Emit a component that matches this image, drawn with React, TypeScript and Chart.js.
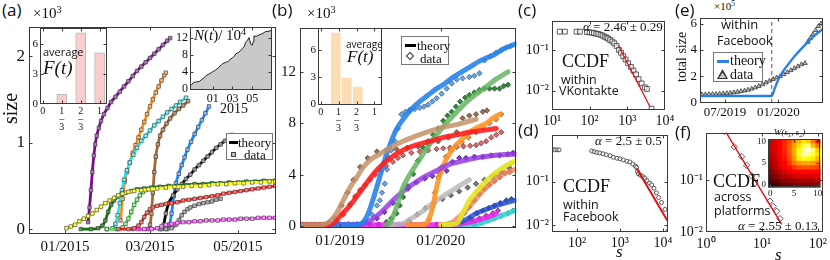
import React, { useEffect, useRef } from "react";
import { Chart, registerables } from "chart.js";

Chart.register(...registerables);

const SERIF = "'Liberation Serif', 'Times New Roman', serif";
const SANS = "'Open Sans', 'DejaVu Sans', sans-serif";
const INK = "#111";

// ================= panel (a): growth of groups, days since 01/2015, size in 10^3 =================
const aXTickDays = [0, 59, 120];
const aXTickLabels = ["01/2015", "03/2015", "05/2015"];
const aYTicks = [0, 1, 2];
const aYellow = [[1,0.01],[4,0.03],[7,0.05],[10,0.09],[13,0.12],[16,0.15],[19,0.18],[22,0.22],[25,0.26],[28,0.3],[31,0.33],[34,0.36],[37,0.39],[40,0.41],[44,0.43],[48,0.44],[53,0.45],[58,0.46],[64,0.47],[70,0.48],[76,0.49],[82,0.49],[88,0.5],[94,0.5],[100,0.51],[106,0.52],[112,0.52],[118,0.53],[124,0.53],[130,0.54],[136,0.54],[142,0.55],[146,0.55]];
const aDarkGreen = [[11,0],[18,0],[23,0.01],[26,0.04],[28,0.1],[30,0.2],[32,0.28],[34,0.33],[36,0.37],[39,0.4],[42,0.42],[46,0.44],[50,0.46],[55,0.47],[60,0.48],[66,0.49],[72,0.5],[78,0.5],[84,0.51],[90,0.52],[96,0.52],[102,0.53],[108,0.53],[114,0.54],[120,0.54],[126,0.55],[132,0.55],[138,0.56],[146,0.56]];
const aRed = [[37,0],[44,0],[48,0.01],[51,0.04],[53,0.08],[55,0.14],[57,0.19],[59,0.23],[61,0.25],[64,0.27],[67,0.28],[70,0.29],[74,0.3],[78,0.31],[82,0.33],[86,0.34],[90,0.35],[94,0.36],[98,0.37],[102,0.38],[106,0.39],[110,0.41],[114,0.42],[118,0.43],[122,0.44],[126,0.45],[130,0.46],[134,0.47],[138,0.48],[142,0.49],[146,0.5]];
const aMagenta = [[47,0],[55,0],[60,0],[64,0.01],[67,0.03],[70,0.05],[74,0.06],[78,0.07],[82,0.08],[86,0.08],[90,0.09],[94,0.09],[98,0.1],[102,0.1],[106,0.1],[110,0.11],[114,0.11],[118,0.11],[122,0.12],[126,0.12],[130,0.12],[134,0.13],[138,0.13],[142,0.13],[146,0.13]];
const aLightGreen = [[29,0],[36,0],[40,0.02],[42,0.06],[44,0.12],[46,0.2],[48,0.28],[50,0.34],[52,0.39],[54,0.43],[56,0.45]];
const aGray = [[70,0],[74,0.01],[77,0.05],[79,0.1],[81,0.16],[83,0.2],[85,0.23],[87,0.25],[90,0.27],[93,0.29],[96,0.3],[99,0.31],[102,0.32],[105,0.34],[108,0.35]];
const aBlack = [[67,0],[68.5,0.05],[70,0.18],[72,0.3],[75,0.39],[78,0.46],[81,0.52],[84,0.58],[87,0.63],[90,0.69],[93,0.74],[96,0.79],[99,0.84],[102,0.89],[105,0.94],[108,0.98],[111,1.02],[114,1.06],[116,1.09]];
const aBlue = [[66,0],[71,0],[72.5,0.05],[74,0.18],[75.5,0.38],[77,0.53],[79,0.64],[81,0.74],[83,0.83],[85,0.92],[87.5,1.01],[90,1.1],[92.5,1.18],[95,1.26],[97.5,1.34],[100,1.42]];
const aBrown = [[51,0],[57,0],[59,0.05],[60,0.18],[61,0.42],[62,0.66],[63,0.84],[64.5,0.98],[66,1.08],[68,1.15],[70.5,1.22],[73,1.28],[76,1.34],[79,1.39],[82,1.43],[85.5,1.48]];
const aCyan = [[29,0],[33,0.01],[35,0.06],[36.5,0.16],[38,0.3],[39.5,0.45],[41,0.57],[43,0.68],[45,0.77],[47.5,0.86],[50,0.94],[53,1.02],[56,1.08],[59,1.14],[62,1.2],[65,1.25],[68,1.3],[71,1.35],[74,1.39],[77,1.43],[80,1.47],[84,1.52]];
const aOrange = [[38.5,0.1],[40,0.35],[41.5,0.55],[43,0.66],[45,0.77],[47,0.88],[49,0.97],[51,1.06],[53,1.15],[55,1.24],[57,1.33],[59,1.42],[61,1.5],[63,1.58],[65,1.65],[67,1.72],[69,1.78],[70,1.81]];
const aPurple = [[16,0.08],[17,0.25],[18,0.45],[19,0.66],[20,0.85],[21,0.98],[22,1.08],[23.5,1.17],[25,1.25],[27,1.33],[29.5,1.4],[32,1.47],[35,1.53],[38,1.59],[41,1.65],[44,1.71],[47,1.77],[50,1.83],[53,1.88],[56,1.93],[59,1.98],[62,2.03],[65,2.08],[68,2.13],[71,2.18],[73,2.21]];

// inset: average F(t)
const aFracTicks = [0, 1 / 3, 2 / 3, 1];
const aBarX = [1 / 3, 2 / 3, 1];
const aBarF = [0.94, 7.17, 5.15];
const aBarYTicks = [0, 3, 6];
// inset: N(t)/10^4, months since 01/2015
const aNTicks = [0, 2, 4];
const aNTickLabels = ["01", "03", "05"];
const aNYTicks = [0, 4, 8, 12];
const aN = [[-2.3,0.8],[-2.15,0.9],[-1.9,1.5],[-1.6,1.6],[-1.33,1.75],[-1.1,2.2],[-0.9,2.5],[-0.66,3.1],[-0.4,3.4],[-0.15,3.8],[0,4.0],[0.3,4.4],[0.6,5.0],[0.85,5.5],[1.0,5.9],[1.3,6.2],[1.5,6.3],[1.67,6.7],[2.0,7.3],[2.2,7.7],[2.33,8.2],[2.6,8.5],[2.8,8.9],[3.0,9.4],[3.2,10.0],[3.33,10.9],[3.5,11.3],[3.67,12.0],[3.75,11.4],[3.83,10.5],[4.0,10.2],[4.1,11.0],[4.17,12.4],[4.4,12.3],[4.67,12.6],[5.0,12.9],[5.33,13.4],[5.7,13.5],[6.0,13.8]];

// ================= panel (b): months since 01/2019, size in 10^3 =================
const bXTicks = [0, 12];
const bXTickLabels = ["01/2019", "01/2020"];
const bYTicks = [0, 4, 8, 12];
const bBrownT = [[-4.75,0.1],[-2.5,0.1],[-1.6,0.2],[-1.0,0.5],[-0.4,1.0],[0.4,2.0],[1.2,3.0],[2.0,3.8],[2.8,4.6],[3.7,5.2],[4.75,5.6],[6.0,6.1],[7.5,6.6],[9.0,7.0],[10.7,7.4],[12.3,7.7],[13.9,7.9],[15.0,8.1],[16.2,8.3]];
const bBrownD = [[-1.2,0.3],[-0.6,0.6],[0.2,1.6],[0.9,2.6],[1.6,3.6],[2.4,4.6],[3.3,5.3],[4.4,5.8],[5.5,5.9],[6.7,6.0],[8.0,6.1],[9.3,6.2],[10.5,6.4],[11.7,6.6],[12.9,6.9],[13.9,7.3],[14.6,8.4],[15.4,8.6],[16.2,8.7],[17.0,8.9],[17.5,9.0]];
const bRedT = [[-4.75,0.1],[-1.5,0.1],[-0.8,0.2],[0.2,0.9],[1.2,1.6],[2.0,2.3],[2.8,3.0],[3.8,3.9],[4.75,4.6],[6.0,5.3],[7.5,5.9],[9.0,6.3],[10.7,6.6],[12.3,6.9],[13.9,7.1],[15.4,7.3],[17.0,7.45],[18.6,7.6]];
const bRedD = [[-0.3,0.3],[0.4,0.9],[1.2,1.7],[1.8,2.3],[2.4,2.8],[3.0,3.2],[3.6,3.6],[4.2,4.0],[4.8,4.3],[5.5,4.7],[6.3,5.0],[6.9,5.3],[7.5,5.5],[8.5,5.7],[9.5,5.8],[10.5,5.9],[11.5,6.0],[12.3,6.05],[13.1,6.1],[13.9,6.15],[14.7,6.2],[15.5,6.25],[16.2,6.3],[16.8,6.45],[17.4,6.6],[18.0,6.9],[18.6,7.1],[19.2,7.3]];
const bBlueT = [[-4.75,0.1],[2.0,0.1],[2.6,0.2],[3.0,0.5],[3.5,1.2],[4.0,2.2],[4.5,3.3],[5.0,4.4],[5.5,5.5],[6.0,6.4],[6.7,7.5],[7.5,8.3],[8.5,9.1],[9.5,9.7],[10.5,10.2],[11.5,10.7],[12.5,11.1],[13.5,11.6],[14.5,12.0],[15.5,12.4],[16.5,12.8],[17.5,13.1],[18.5,13.4],[19.5,13.8],[21,14.2]];
const bBlueD = [[1.0,0.15],[2.0,0.15],[3.0,0.3],[3.8,0.9],[4.4,1.6],[4.75,2.0],[5.0,2.6],[5.34,3.3],[5.6,4.4],[5.74,5.3],[6.1,5.9],[6.53,6.6],[6.9,7.6],[7.32,8.7],[7.8,8.9],[8.31,9.05],[8.9,9.1],[9.5,9.2],[10.0,9.3],[10.5,9.45],[11.0,9.7],[11.5,9.95],[12.1,10.3],[12.7,10.7],[13.3,11.1],[13.9,11.4],[14.6,11.5],[15.4,11.6],[16.0,11.7],[16.6,11.9],[17.2,12.9],[17.9,13.2],[18.6,13.5],[19.2,13.7],[19.8,13.9],[20.3,14.0]];
const bGreenT = [[5.5,0.1],[6.0,0.3],[6.3,0.7],[6.8,1.6],[7.5,3.0],[8.5,4.2],[9.5,5.2],[10.5,6.2],[11.5,7.1],[12.5,7.9],[13.5,8.6],[14.5,9.3],[15.5,9.9],[16.5,10.4],[17.5,10.9],[18.5,11.4],[19.5,11.8],[20.0,12.0]];
const bGreenD = [[5.54,0.33],[6.1,0.6],[6.73,0.98],[7.1,1.6],[7.52,2.26],[8.1,3.1],[8.71,4.05],[9.3,5.1],[9.9,6.1],[10.5,6.6],[11.1,7.1],[11.7,7.6],[12.3,8.2],[12.8,8.6],[13.3,8.9],[13.8,9.3],[14.3,9.7],[14.9,10.0],[15.4,10.2],[16.0,10.4],[16.6,10.6],[17.2,10.7],[17.8,10.7],[18.4,10.7],[19.0,10.7],[19.5,10.9],[20.0,11.0]];
const bPurpleT = [[-4.75,0.1],[1.5,0.1],[2.77,0.2],[3.8,0.5],[4.75,0.98],[5.7,1.6],[6.73,2.26],[7.7,2.8],[8.71,3.28],[9.7,3.7],[10.7,4.05],[11.9,4.45],[13.1,4.82],[14.2,5.0],[15.4,5.2],[16.6,5.35],[17.8,5.46],[19.3,5.55],[21,5.6]];
const bPurpleD = [[4.4,0.6],[5.3,1.1],[6.3,1.8],[7.2,2.4],[8.1,2.9],[9.1,3.4],[10.1,3.7],[11.0,3.9],[11.9,4.1],[12.7,4.3],[13.4,5.0],[14.2,5.3],[15.0,5.3],[16.0,5.4],[17.0,5.4],[18.0,5.5],[19.0,5.5],[20.0,5.6],[20.6,5.7]];
const bOrangeT = [[8,0.1],[10.0,0.1],[10.4,0.3],[10.8,0.9],[11.2,2.0],[11.6,3.3],[12.0,4.2],[12.5,5.0],[13.1,5.7],[13.8,6.3],[14.6,6.8],[15.4,7.3],[16.4,7.7],[17.4,8.0],[18.2,8.4],[19.0,8.7]];
const bOrangeD = [[10.6,0.5],[11.0,1.5],[11.3,2.6],[11.7,3.8],[12.1,4.6],[12.6,5.4],[13.2,5.9],[13.8,6.2],[14.5,6.5],[15.3,6.9],[16.2,7.3],[17.0,7.7],[17.8,8.0],[18.6,8.3],[19.2,8.7]];
const bGrayT = [[6,0.1],[7.52,0.2],[8.5,0.6],[9.5,1.0],[10.5,1.5],[11.5,2.0],[12.7,2.5],[13.9,3.0],[15.4,3.6]];
const bGrayD = [[8.2,0.4],[9.2,0.9],[10.2,1.4],[11.2,1.8],[12.2,2.1],[13.2,2.4],[14.2,2.7],[15.2,3.0],[16.2,3.3],[17.2,3.6],[18.2,3.9],[19.2,4.2],[20.2,4.5]];
const bYellowT = [[12,0.1],[13.9,0.2],[14.6,1.0],[15.4,2.0],[16.4,2.8],[17.4,3.5],[18.4,4.1],[19.4,4.56],[20.8,5.07]];
const bYellowD = [[14.4,0.7],[15.0,1.3],[15.6,2.0],[16.2,2.6],[16.8,3.0],[17.4,3.4],[18.0,3.8],[18.6,4.1],[19.2,4.4],[19.8,4.7],[20.4,4.9]];
const bSalmonT = [[12,0.1],[13.1,0.2],[14.3,0.8],[15.4,1.5],[16.4,2.3],[17.4,3.0],[18.4,3.6],[19.4,4.05],[20.8,4.4]];
const bSalmonD = [[14.8,1.0],[15.4,1.5],[16.0,2.0],[16.6,2.5],[17.2,2.9],[17.8,3.2],[18.4,3.5],[19.0,3.8],[19.6,4.1],[20.2,4.2]];
const bNavyT = [[12,0.1],[13.5,0.2],[15.0,0.5],[16.2,0.98],[17.4,1.3],[18.6,1.6],[20.8,2.0]];
const bNavyD = [[15.5,0.6],[16.3,1.0],[17.0,1.2],[17.7,1.4],[18.4,1.6],[19.1,1.8],[19.8,2.0],[20.4,2.1]];
const bMagentaT = [[-4.75,0.1],[13,0.1],[15.4,0.3],[16.6,0.5],[17.8,0.75],[18.6,0.98]];
const bMagentaD = [[15.8,0.4],[16.6,0.6],[17.4,0.8],[18.2,1.0],[18.8,1.2]];
const bCyanT = [[13,0.1],[16,0.1],[17.0,0.25],[18.6,0.65],[19.8,0.95],[20.8,1.2]];
const bCyanD = [[16.8,0.3],[17.6,0.45],[18.4,0.6],[19.2,0.8],[20.0,1.0],[20.6,1.2]];
const bBaseD = [[-4.4,0.12],[-3.9,0.12],[-3.4,0.12],[-2.9,0.12],[-2.4,0.12],[-1.9,0.12],[-1.4,0.12],[-0.9,0.12],[-0.4,0.12],[0.1,0.12],[0.6,0.12],[1.1,0.12],[1.6,0.12],[2.1,0.12],[2.6,0.12],[3.6,0.12],[4.6,0.12],[5.6,0.12],[7.0,0.12],[8.5,0.12],[10,0.12],[11.5,0.12],[13,0.12],[14.5,0.12],[16,0.12]];
// inset
const bFracTicks = [0, 1 / 3, 2 / 3, 1];
const bBarX = [0.28, 0.485, 0.69];
const bBarF = [8.0, 3.0, 2.0];
const bBarYTicks = [0, 3, 6];

// ================= panel (c): CCDF within VKontakte =================
const cXTicks = [10, 100, 1000, 10000];
const cYTicks = [0.1, 0.01];
const cData = [[16,0.28],[22,0.28],[45,0.28],[55,0.28],[85,0.275],[100,0.27],[115,0.265],[130,0.26],[150,0.25],[170,0.245],[195,0.235],[220,0.225],[250,0.21],[280,0.2],[310,0.19],[350,0.175],[400,0.16],[450,0.145],[520,0.125],[600,0.1],[680,0.085],[780,0.07],[900,0.058],[1050,0.047],[1250,0.038],[1450,0.031],[1700,0.025],[2000,0.019],[2400,0.015],[2900,0.012],[3300,0.011],[4400,0.0036]];
const cFit = [[575,0.13],[4000,0.004]];

// ================= panel (d): CCDF within Facebook =================
const dXTicks = [100, 1000, 10000];
const dYTicks = [0.1, 0.01];
const dData = [[26,0.55],[30,0.53],[34,0.53],[38,0.53],[219,0.5],[250,0.48],[290,0.46],[339,0.45],[400,0.43],[480,0.41],[589,0.39],[700,0.36],[850,0.34],[1000,0.33],[1200,0.31],[1450,0.29],[1700,0.28],[2000,0.25],[2300,0.225],[2450,0.21],[2550,0.17],[2690,0.15],[3000,0.14],[3400,0.13],[3800,0.12],[4300,0.105],[4900,0.092],[5500,0.084],[6200,0.07],[7080,0.055],[8000,0.043],[9330,0.033],[11200,0.023],[13000,0.0072]];
const dFit = [[2450,0.2],[12600,0.013]];

// ================= panel (e): total size within Facebook (10^5), months since 01/2019 =================
const eXTicks = [6, 12];
const eXTickLabels = ["07/2019", "01/2020"];
const eYTicks = [0, 2, 4, 6];
const eTheory = [[3.19,0.5],[11.26,0.5],[11.6,1.1],[12.0,1.75],[12.5,2.35],[13.1,2.9],[13.8,3.5],[14.6,4.1],[15.4,4.65],[16.1,5.1],[17.0,5.6]];
const eData = [[3.4,0.62],[3.8,0.62],[4.2,0.63],[4.6,0.64],[5.0,0.65],[5.4,0.67],[5.8,0.69],[6.2,0.71],[6.6,0.74],[7.0,0.77],[7.4,0.81],[7.8,0.86],[8.2,0.91],[8.6,0.97],[9.0,1.05],[9.4,1.14],[9.8,1.25],[10.2,1.38],[10.6,1.52],[11.0,1.65],[11.4,1.78],[11.8,1.9],[12.2,2.0],[12.6,2.15],[13.0,2.3],[13.4,2.45],[13.8,2.6],[14.2,2.75],[14.6,2.9],[15.0,3.0],[15.3,4.6],[15.6,4.9],[15.9,5.2],[16.2,5.5],[16.5,5.8],[16.8,6.0]];
const eSwitch = [[11.26,-0.03],[11.26,6.45]];

// ================= panel (f): CCDF across platforms =================
const fXTicks = [1, 10, 100];
const fYTicks = [0.1, 0.01];
const fData = [[2.12,0.85],[3.2,0.43],[4.34,0.28],[5.33,0.19],[6.55,0.12],[7.5,0.087],[13.9,0.039],[15.9,0.031],[18.3,0.025],[21.0,0.018]];
const fFit = [[2.12,0.93],[22.5,0.014]];
// inset W(s1,s2): rows s2 = 10 ... 0, columns s1 = 0 ... 10
const wTicks = [0, 5, 10];
const wRows = [
  [0.28,0.32,0.38,0.45,0.52,0.60,0.68,0.76,0.72,0.58,0.45],
  [0.28,0.32,0.38,0.46,0.55,0.65,0.75,0.85,0.90,0.70,0.58],
  [0.27,0.31,0.37,0.45,0.55,0.66,0.80,0.92,0.97,0.90,0.72],
  [0.26,0.30,0.36,0.44,0.54,0.66,0.82,0.95,0.92,0.85,0.76],
  [0.25,0.29,0.35,0.42,0.52,0.64,0.78,0.82,0.80,0.78,0.68],
  [0.23,0.27,0.33,0.40,0.48,0.58,0.64,0.66,0.66,0.64,0.60],
  [0.21,0.25,0.30,0.36,0.42,0.48,0.52,0.53,0.53,0.52,0.50],
  [0.18,0.22,0.26,0.31,0.35,0.38,0.40,0.41,0.41,0.41,0.40],
  [0.15,0.18,0.22,0.25,0.28,0.30,0.31,0.32,0.32,0.32,0.32],
  [0.10,0.13,0.16,0.19,0.21,0.22,0.23,0.24,0.24,0.24,0.24],
  [0.05,0.08,0.11,0.13,0.15,0.16,0.17,0.17,0.17,0.17,0.17],
];

// ================= helpers =================
const pts = (a: number[][]) => a.map(([x, y]) => ({ x, y }));
const SUP: Record<string, string> = { "-": "\u207B", "0": "\u2070", "1": "\u00B9", "2": "\u00B2", "3": "\u00B3", "4": "\u2074", "5": "\u2075" };
const logLabel = (v: number) => "10" + String(Math.round(Math.log10(v))).split("").map((c) => SUP[c]).join("");
const pick = (vals: number[], labels: string[]) => (v: number) => {
  const i = vals.findIndex((t) => Math.abs(t - v) < 1e-9);
  return i < 0 ? "" : labels[i];
};
const fracLabel = (v: number) => {
  if (Math.abs(v) < 1e-6) return "0";
  if (Math.abs(v - 1) < 1e-6) return "1";
  return [Math.abs(v - 1 / 3) < 1e-6 ? "1" : "2", "\u2013", "3"];
};

const fitX = (xh: number) => (s: any) => { s.height = xh; s.paddingLeft = 0; s.paddingRight = 0; };
const fitY = (yw: number) => (s: any) => { s.width = yw; s.paddingTop = 0; s.paddingBottom = 0; };

function axis(o: any) {
  return {
    type: o.type || "linear",
    min: o.min,
    max: o.max,
    offset: false,
    grid: { display: false, drawTicks: false },
    border: { display: false },
    afterBuildTicks: (s: any) => { s.ticks = o.ticks.map((v: number) => ({ value: v })); },
    afterFit: o.fit,
    ticks: {
      autoSkip: false, maxRotation: 0, minRotation: 0, padding: o.pad ?? 3, color: INK,
      font: { family: SERIF, size: o.size, lineHeight: o.lh ?? 1.2 },
      callback: (v: any) => o.fmt(Number(v)),
    },
  };
}

function opts(x: any, y: any, pt: number, pr: number, extra: any = {}) {
  return {
    responsive: false, maintainAspectRatio: false, animation: false, events: [],
    layout: { padding: { top: pt, right: pr, left: 0, bottom: 0 } },
    plugins: { legend: { display: false }, tooltip: { enabled: false }, title: { display: false }, ...extra },
    scales: { x, y },
  };
}

const framePlugin = {
  id: "frame",
  afterDraw(chart: any) {
    const { ctx, chartArea: a, scales } = chart;
    const L = Math.round(a.left) + 0.5, R = Math.round(a.right) - 0.5;
    const T = Math.round(a.top) + 0.5, B = Math.round(a.bottom) - 0.5;
    ctx.save();
    ctx.strokeStyle = "#3a3a3a";
    ctx.lineWidth = 1;
    ctx.strokeRect(L, T, R - L, B - T);
    ctx.beginPath();
    const tl = 3;
    (scales.x.ticks || []).forEach((t: any) => {
      const p = Math.round(scales.x.getPixelForValue(t.value)) + 0.5;
      if (p < L || p > R) return;
      ctx.moveTo(p, B); ctx.lineTo(p, B - tl); ctx.moveTo(p, T); ctx.lineTo(p, T + tl);
    });
    (scales.y.ticks || []).forEach((t: any) => {
      const p = Math.round(scales.y.getPixelForValue(t.value)) + 0.5;
      if (p < T || p > B) return;
      ctx.moveTo(L, p); ctx.lineTo(L + tl, p); ctx.moveTo(R, p); ctx.lineTo(R - tl, p);
    });
    ctx.stroke();
    ctx.restore();
  },
};

const whitePlugin = {
  id: "white",
  beforeDraw(chart: any) {
    const { ctx, chartArea: a } = chart;
    ctx.save();
    ctx.fillStyle = "#fff";
    ctx.fillRect(a.left, a.top, a.right - a.left, a.bottom - a.top);
    ctx.restore();
  },
};

const hot = (v: number) => {
  const c = (t: number) => Math.max(0, Math.min(1, t));
  const r = c(0.08 + v / 0.4), g = c((v - 0.4) / 0.4), b = c((v - 0.8) / 0.2);
  return `rgb(${Math.round(r * 255)},${Math.round(g * 255)},${Math.round(b * 255)})`;
};

const heatPlugin = {
  id: "heat",
  beforeDatasetsDraw(chart: any) {
    const { ctx, scales } = chart;
    const xs = scales.x, ys = scales.y;
    ctx.save();
    wRows.forEach((row, r) => {
      const s2 = wRows.length - 1 - r;
      row.forEach((v, s1) => {
        const x0 = xs.getPixelForValue(s1 - 0.5), x1 = xs.getPixelForValue(s1 + 0.5);
        const y0 = ys.getPixelForValue(s2 + 0.5), y1 = ys.getPixelForValue(s2 - 0.5);
        ctx.fillStyle = hot(v);
        ctx.fillRect(x0, y0, x1 - x0 + 0.6, y1 - y0 + 0.6);
      });
    });
    ctx.restore();
  },
};

function ChartBox({ l, t, w, h, yw, xh, pt = 2, pr = 4, make }: any) {
  const ref = useRef<HTMLCanvasElement | null>(null);
  const W = yw + w + pr;
  const H = pt + h + xh;
  useEffect(() => {
    const chart = new Chart(ref.current as HTMLCanvasElement, make({ yw, xh, pt, pr }));
    return () => chart.destroy();
  }, []);
  return (
    <div style={{ position: "absolute", left: l - yw, top: t - pt, width: W, height: H }}>
      <canvas ref={ref} width={W} height={H} style={{ display: "block", width: W, height: H }} />
    </div>
  );
}

// ================= chart configs =================
const aSeries = [
  { d: aYellow, line: "#ffff1a", fill: "#ffff66" },
  { d: aDarkGreen, line: "#0a7a0a", fill: "#4a9a4a" },
  { d: aRed, line: "#ff1a1a", fill: "#ff7777" },
  { d: aMagenta, line: "#ff2cff", fill: "#ff99ff" },
  { d: aLightGreen, line: "#44ee44", fill: "#aaf5aa" },
  { d: aGray, line: "#8a8a8a", fill: "#b0b0b0" },
  { d: aBlack, line: "#000000", fill: "#9a9a9a" },
  { d: aBlue, line: "#1e8cff", fill: "#88bdf2" },
  { d: aBrown, line: "#a8682e", fill: "#c49a78" },
  { d: aCyan, line: "#22e6f0", fill: "#8af2f2" },
  { d: aOrange, line: "#ff8c1a", fill: "#ffb870" },
  { d: aPurple, line: "#7b0c8a", fill: "#a878b8" },
];

const makeA = ({ yw, xh, pt, pr }: any) => ({
  type: "scatter",
  data: {
    datasets: aSeries.map((s) => ({
      data: pts(s.d), showLine: true, borderColor: s.line, borderWidth: 2.8, cubicInterpolationMode: "monotone",
      pointStyle: "rect", pointRadius: 2.5, pointBackgroundColor: s.fill, pointBorderColor: "#333", pointBorderWidth: 0.6,
    })),
  },
  options: opts(
    axis({ min: -25, max: 146.5, ticks: aXTickDays, fmt: pick(aXTickDays, aXTickLabels), size: 15, fit: fitX(xh), pad: 4 }),
    axis({ min: -0.057, max: 2.343, ticks: aYTicks, fmt: (v: number) => String(v), size: 17, fit: fitY(yw), pad: 4 }),
    pt, pr),
  plugins: [framePlugin],
});

const makeABar = ({ yw, xh, pt, pr }: any) => ({
  type: "bar",
  data: {
    datasets: [{
      data: aBarX.map((x, i) => ({ x, y: aBarF[i] })), backgroundColor: "#fdcccc", borderColor: "#b8b8b8", borderWidth: 1, barThickness: 10,
    }],
  },
  options: opts(
    axis({ min: -0.05, max: 1.13, ticks: aFracTicks, fmt: fracLabel, size: 10, lh: 0.8, fit: fitX(xh), pad: 3 }),
    axis({ min: -0.03, max: 7.65, ticks: aBarYTicks, fmt: (v: number) => String(v), size: 11, fit: fitY(yw), pad: 2 }),
    pt, pr),
  plugins: [whitePlugin, framePlugin],
});

const makeAN = ({ yw, xh, pt, pr }: any) => ({
  type: "scatter",
  data: {
    datasets: [{
      data: pts(aN), showLine: true, fill: "start", backgroundColor: "#c9c9c9", borderColor: "#222", borderWidth: 1, pointRadius: 0, tension: 0,
    }],
  },
  options: opts(
    axis({ min: -2.3, max: 6.0, ticks: aNTicks, fmt: pick(aNTicks, aNTickLabels), size: 12, fit: fitX(xh), pad: 2 }),
    axis({ min: -0.31, max: 14.5, ticks: aNYTicks, fmt: (v: number) => String(v), size: 12, fit: fitY(yw), pad: 2 }),
    pt, pr),
  plugins: [whitePlugin, framePlugin],
});

const bSeries = [
  { t: bBrownT, d: bBrownD, tc: "rgba(196,146,104,0.85)", df: "#9a7055", db: "#3a2414" },
  { t: bRedT, d: bRedD, tc: "rgba(255,30,30,0.9)", df: "#d86a6a", db: "#5a1414" },
  { t: bBlueT, d: bBlueD, tc: "rgba(40,130,235,0.9)", df: "#6aa6e6", db: "#143a6a" },
  { t: bGreenT, d: bGreenD, tc: "rgba(100,180,100,0.85)", df: "#2f8a3a", db: "#0a300a" },
  { t: bPurpleT, d: bPurpleD, tc: "rgba(150,60,225,0.85)", df: "#7a3ac8", db: "#2a1050" },
  { t: bOrangeT, d: bOrangeD, tc: "rgba(255,150,40,0.9)", df: "#ee9a48", db: "#6a3a10" },
  { t: bGrayT, d: bGrayD, tc: "rgba(185,185,185,0.85)", df: "#777", db: "#222" },
  { t: bYellowT, d: bYellowD, tc: "rgba(232,232,40,0.9)", df: "#d8d838", db: "#505010" },
  { t: bSalmonT, d: bSalmonD, tc: "rgba(238,135,95,0.8)", df: "#d87a58", db: "#502010" },
  { t: bNavyT, d: bNavyD, tc: "rgba(40,80,205,0.85)", df: "#3a58a8", db: "#101a40" },
  { t: bMagentaT, d: bMagentaD, tc: "rgba(232,40,232,0.9)", df: "#c040c0", db: "#401040" },
  { t: bCyanT, d: bCyanD, tc: "rgba(60,212,212,0.9)", df: "#38b0b0", db: "#104040" },
];

const makeB = ({ yw, xh, pt, pr }: any) => ({
  type: "scatter",
  data: {
    datasets: [
      ...bSeries.map((s) => ({
        data: pts(s.t), showLine: true, borderColor: s.tc, borderWidth: 5, borderCapStyle: "round", borderJoinStyle: "round",
        cubicInterpolationMode: "monotone", pointRadius: 0,
      })),
      { data: pts(bBaseD), showLine: false, pointStyle: "rectRot", pointRadius: 2.7, pointBackgroundColor: "#5a2a90", pointBorderColor: "#1a0a30", pointBorderWidth: 0.6 },
      ...bSeries.map((s) => ({
        data: pts(s.d), showLine: false, pointStyle: "rectRot", pointRadius: 2.7, pointBackgroundColor: s.df, pointBorderColor: s.db, pointBorderWidth: 0.6,
      })),
    ],
  },
  options: opts(
    axis({ min: -4.75, max: 21.0, ticks: bXTicks, fmt: pick(bXTicks, bXTickLabels), size: 15, fit: fitX(xh), pad: 4 }),
    axis({ min: -0.15, max: 15.45, ticks: bYTicks, fmt: (v: number) => String(v), size: 15, fit: fitY(yw), pad: 4 }),
    pt, pr),
  plugins: [framePlugin],
});

const makeBBar = ({ yw, xh, pt, pr }: any) => ({
  type: "bar",
  data: {
    datasets: [{
      data: bBarX.map((x, i) => ({ x, y: bBarF[i] })), backgroundColor: "#fbdcb4", borderColor: "#ffffff", borderWidth: 1, barThickness: 11,
    }],
  },
  options: opts(
    axis({ min: -0.05, max: 1.14, ticks: bFracTicks, fmt: fracLabel, size: 10, lh: 0.8, fit: fitX(xh), pad: 3 }),
    axis({ min: -0.11, max: 8.44, ticks: bBarYTicks, fmt: (v: number) => String(v), size: 11, fit: fitY(yw), pad: 2 }),
    pt, pr),
  plugins: [whitePlugin, framePlugin],
});

const ccdf = (data: number[][], fit: number[][], style: string, r: number, lw: number) => [
  { data: pts(fit), showLine: true, borderColor: "#e41010", borderWidth: lw, pointRadius: 0 },
  { data: pts(data), showLine: false, pointStyle: style, pointRadius: r, pointBackgroundColor: "rgba(255,255,255,0.6)", pointBorderColor: "#333", pointBorderWidth: 0.8 },
];

const makeC = ({ yw, xh, pt, pr }: any) => ({
  type: "scatter",
  data: { datasets: ccdf(cData, cFit, "rect", 3.4, 1.3) },
  options: opts(
    axis({ type: "logarithmic", min: 10, max: 10000, ticks: cXTicks, fmt: logLabel, size: 14, fit: fitX(xh), pad: 3 }),
    axis({ type: "logarithmic", min: 0.00334, max: 0.518, ticks: cYTicks, fmt: logLabel, size: 14, fit: fitY(yw), pad: 3 }),
    pt, pr),
  plugins: [framePlugin],
});

const makeD = ({ yw, xh, pt, pr }: any) => ({
  type: "scatter",
  data: { datasets: ccdf(dData, dFit, "circle", 2, 2) },
  options: opts(
    axis({ type: "logarithmic", min: 26, max: 13200, ticks: dXTicks, fmt: logLabel, size: 14, fit: fitX(xh), pad: 3 }),
    axis({ type: "logarithmic", min: 0.007, max: 1.17, ticks: dYTicks, fmt: logLabel, size: 14, fit: fitY(yw), pad: 3 }),
    pt, pr),
  plugins: [framePlugin],
});

const makeE = ({ yw, xh, pt, pr }: any) => ({
  type: "scatter",
  data: {
    datasets: [
      { data: pts(eSwitch), showLine: true, borderColor: "#555", borderWidth: 1, borderDash: [4, 3], pointRadius: 0 },
      { data: pts(eTheory), showLine: true, borderColor: "#2a80e6", borderWidth: 2.4, cubicInterpolationMode: "monotone", pointRadius: 0 },
      { data: pts(eData), showLine: false, pointStyle: "triangle", pointRadius: 2.6, pointBackgroundColor: "#b8b8b8", pointBorderColor: "#222", pointBorderWidth: 0.7 },
    ],
  },
  options: opts(
    axis({ min: 3.19, max: 17.02, ticks: eXTicks, fmt: pick(eXTicks, eXTickLabels), size: 13, fit: fitX(xh), pad: 2 }),
    axis({ min: -0.03, max: 6.45, ticks: eYTicks, fmt: (v: number) => String(v), size: 13, fit: fitY(yw), pad: 3 }),
    pt, pr),
  plugins: [framePlugin],
});

const makeF = ({ yw, xh, pt, pr }: any) => ({
  type: "scatter",
  data: { datasets: ccdf(fData, fFit, "rectRot", 3.2, 1.4) },
  options: opts(
    axis({ type: "logarithmic", min: 1, max: 123, ticks: fXTicks, fmt: logLabel, size: 14, fit: fitX(xh), pad: 4 }),
    axis({ type: "logarithmic", min: 0.01, max: 0.8, ticks: fYTicks, fmt: logLabel, size: 14, fit: fitY(yw), pad: 3 }),
    pt, pr),
  plugins: [framePlugin],
});

const makeW = ({ yw, xh, pt, pr }: any) => ({
  type: "scatter",
  data: { datasets: [{ data: [], pointRadius: 0 }] },
  options: opts(
    axis({ min: -0.5, max: 10.5, ticks: wTicks, fmt: (v: number) => String(v), size: 9, fit: fitX(xh), pad: 1 }),
    axis({ min: -0.5, max: 10.5, ticks: wTicks, fmt: (v: number) => String(v), size: 9, fit: fitY(yw), pad: 2 }),
    pt, pr),
  plugins: [heatPlugin, framePlugin],
});

// ================= text helpers =================
function T({ x, y, s, f = SERIF, i = false, children, rot, c = INK }: any) {
  return (
    <div
      style={{
        position: "absolute", left: x, top: y, fontSize: s, fontFamily: f, fontStyle: i ? "italic" : "normal", color: c,
        lineHeight: 1, whiteSpace: "nowrap", transform: rot ? `rotate(${rot}deg)` : undefined, transformOrigin: "left top",
      }}
    >
      {children}
    </div>
  );
}
const Sup = ({ children }: any) => <span style={{ fontSize: "0.68em", position: "relative", top: "-0.5em" }}>{children}</span>;
const Sub = ({ children }: any) => <span style={{ fontSize: "0.7em", position: "relative", top: "0.25em" }}>{children}</span>;

function Box({ x, y, w, h, children }: any) {
  return <div style={{ position: "absolute", left: x, top: y, width: w, height: h, border: "1px solid #777", background: "#fff", boxSizing: "border-box" }}>{children}</div>;
}
const Abs = ({ x, y, w, h, bg, extra }: any) => <div style={{ position: "absolute", left: x, top: y, width: w, height: h, background: bg, ...(extra || {}) }} />;

export default function App() {
  return (
    <div style={{ position: "absolute", left: 0, top: 0, width: 830, height: 260, background: "#fff", overflow: "hidden" }}>
      {/* main panels */}
      <ChartBox l={29} t={24} w={247} h={210} yw={28} xh={26} pr={6} make={makeA} />
      <ChartBox l={300} t={25} w={217} h={203} yw={28} xh={26} pr={4} make={makeB} />
      <ChartBox l={552} t={18} w={113} h={92} yw={30} xh={22} pr={12} make={makeC} />
      <ChartBox l={552} t={132} w={116} h={100} yw={30} xh={22} pr={10} make={makeD} />
      <ChartBox l={700} t={15} w={123} h={88} yw={14} xh={16} pr={6} make={makeE} />
      <ChartBox l={706} t={130} w={117} h={102} yw={34} xh={22} pr={7} make={makeF} />
      {/* insets */}
      <ChartBox l={40} t={28} w={67} h={76} yw={10} xh={26} pr={2} make={makeABar} />
      <ChartBox l={190} t={27} w={82} h={63} yw={14} xh={14} pr={2} make={makeAN} />
      <ChartBox l={318} t={28} w={64} h={77} yw={10} xh={26} pr={2} make={makeBBar} />
      <ChartBox l={768} t={139} w={52} h={48} yw={11} xh={11} pr={2} make={makeW} />

      {/* panel (a) texts */}
      <T x={2} y={1} s={17} f={SANS}>(a)</T>
      <T x={33} y={6} s={15}>×10<Sup>3</Sup></T>
      <T x={0} y={124} s={20} rot={-90}>size</T>
      <T x={43} y={45.5} s={11} f={SANS}>average</T>
      <T x={43} y={58} s={19} i>F(t)</T>
      <T x={194} y={28} s={15}><i>N</i>(<i>t</i>)/ 10<Sup>4</Sup></T>
      <T x={220} y={101.5} s={14}>2015</T>
      <Box x={226} y={133} w={47} h={27}>
        <Abs x={2} y={7} w={9} h={3} bg="#000" />
        <T x={11} y={2} s={13}>theory</T>
        <Abs x={4} y={18} w={5} h={5} bg="#bbb" extra={{ border: "1px solid #444", boxSizing: "border-box" }} />
        <T x={17} y={14} s={13}>data</T>
      </Box>

      {/* panel (b) texts */}
      <T x={272} y={1} s={17} f={SANS}>(b)</T>
      <T x={307} y={6} s={15}>×10<Sup>3</Sup></T>
      <T x={346} y={38.5} s={10} f={SANS}>average</T>
      <T x={347} y={48} s={17} i>F(t)</T>
      <Box x={401} y={36} w={48} h={29}>
        <Abs x={3} y={7} w={11} h={3} bg="#000" />
        <T x={15} y={2} s={13}>theory</T>
        <Abs x={5} y={16} w={6} h={6} bg="#fff" extra={{ border: "1px solid #333", boxSizing: "border-box", transform: "rotate(45deg)" }} />
        <T x={18} y={15} s={13}>data</T>
      </Box>

      {/* panel (c) texts */}
      <T x={518} y={1} s={17} f={SANS}>(c)</T>
      <T x={583} y={19.5} s={13}><i>α</i> = 2.46 ± 0.29</T>
      <T x={562} y={52} s={18}>CCDF</T>
      <T x={561} y={73.5} s={12.5} f={SANS}>within</T>
      <T x={559} y={85} s={12.5} f={SANS}>VKontakte</T>

      {/* panel (d) texts */}
      <T x={518} y={121} s={17} f={SANS}>(d)</T>
      <T x={595} y={133.5} s={13}><i>α</i> = 2.5 ± 0.5</T>
      <T x={563} y={177} s={18}>CCDF</T>
      <T x={563} y={198.5} s={12.5} f={SANS}>within</T>
      <T x={563} y={211} s={12.5} f={SANS}>Facebook</T>
      <T x={616} y={243} s={17} i>s</T>

      {/* panel (e) texts */}
      <T x={675} y={1} s={17} f={SANS}>(e)</T>
      <T x={714} y={1} s={11}>×10<Sup>5</Sup></T>
      <T x={675} y={82} s={14} rot={-90}>total size</T>
      <T x={721} y={18.3} s={13} f={SANS}>within</T>
      <T x={717} y={35} s={12.5} f={SANS}>Facebook</T>
      <Box x={713} y={52} w={50} h={30}>
        <Abs x={3} y={7} w={12} h={3} bg="#2a80e6" />
        <T x={16} y={1} s={14}>theory</T>
        <Abs x={3} y={16} w={11} h={10} bg="#333" extra={{ clipPath: "polygon(50% 0, 100% 100%, 0 100%)" }} />
        <Abs x={5} y={19.5} w={7} h={5.5} bg="#c8c8c8" extra={{ clipPath: "polygon(50% 0, 100% 100%, 0 100%)" }} />
        <T x={16} y={15} s={14}>data</T>
      </Box>

      {/* panel (f) texts */}
      <T x={675} y={123} s={17} f={SANS}>(f)</T>
      <T x={713} y={172} s={18}>CCDF</T>
      <T x={714} y={190.5} s={12.5} f={SANS}>across</T>
      <T x={714} y={205} s={12.5} f={SANS}>platforms</T>
      <T x={738} y={218.5} s={13}><i>α</i> = 2.55 ± 0.13</T>
      <T x={775} y={246} s={17} i>s</T>
      <T x={774} y={128} s={9} i>W(s<Sub>1</Sub>, s<Sub>2</Sub>)</T>
    </div>
  );
}
